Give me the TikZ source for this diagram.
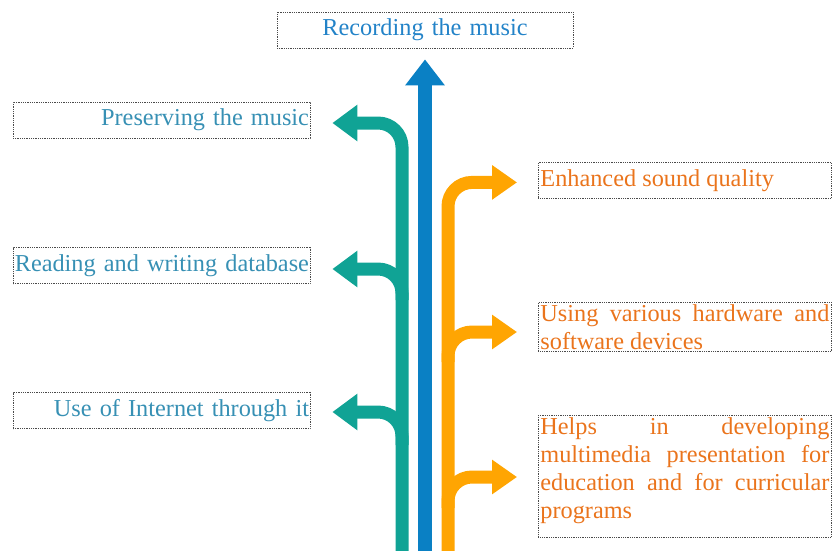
\documentclass[tikz,border=0pt]{standalone}
\usepackage{fontspec}
\setmainfont{Liberation Serif}
\usepackage{xcolor}
\usetikzlibrary{arrows.meta,positioning,calc}
\definecolor{tealarrow}{HTML}{10A395}
\definecolor{bluearrow}{HTML}{0A80C4}
\definecolor{orangearrow}{HTML}{FFA502}
\definecolor{bluetext}{HTML}{2383C8}
\definecolor{tealtext}{HTML}{3790B4}
\definecolor{orangetext}{HTML}{EA741C}
\definecolor{boxline}{HTML}{4A4A4A}
\tikzset{
  txtbox/.style={draw=boxline,densely dotted,line width=0.8pt,
                 inner sep=3pt,minimum height=36pt,
                 font=\fontsize{24.3}{28}\selectfont,
                 execute at begin node={\hyphenpenalty=10000\exhyphenpenalty=10000}},
  leftbox/.style={txtbox,text width=295pt,inner sep=1pt,align=right,text=tealtext},
  rightbox/.style={txtbox,text width=289pt,align=justify,inner sep=2pt,
                   anchor=north west,text=orangetext},
  tealarr/.style={-{Triangle[length=25pt,width=35pt]},line width=13pt,
                  color=tealarrow,rounded corners=24pt},
  orangearr/.style={-{Triangle[length=25pt,width=33pt]},line width=13pt,
                    color=orangearrow,rounded corners=24pt},
  bluearr/.style={-{Triangle[length=26pt,width=38pt]},line width=14pt,color=bluearrow}
}

\begin{document}
\begin{tikzpicture}[x=1pt,y=-1pt]
  \useasboundingbox (0,0) rectangle (834,550);

  % boxes
  \node[txtbox,text width=290pt,align=center,text=bluetext] (rec) at (425,30) {Recording the music};
  \node[leftbox] (pres) at (161.5,120) {Preserving the music};
  \node[leftbox] (read) at (161.5,265.5) {Reading and writing database};
  \node[leftbox] (inet) at (161.5,410.5) {Use of Internet through it};
  \node[rightbox] (enh) at (538,162) {Enhanced sound quality};
  \node[rightbox] (devs) at (538,302) {Using various hardware and software devices};
  \node[rightbox,text depth=101pt] (multi) at (538,415) {Helps in developing multimedia presentation for education and for curricular programs};

  % feet of the three stems
  \coordinate (tealfoot) at (402,552);
  \coordinate (bluefoot) at (425,552);
  \coordinate (orangefoot) at (448,552);
  \coordinate (tealmid) at (402,300);
  \coordinate (teallow) at (402,445);
  \coordinate (orangemid) at (448,362);
  \coordinate (orangelow) at (448,508);

  % centre stem
  \draw[bluearr] (bluefoot) -- ([yshift=-11pt]rec.south);

  % left stem with branches
  \draw[tealarr] (tealfoot) |- ([xshift=22pt,yshift=-3pt]pres.east);
  \draw[tealarr] (tealmid) |- ([xshift=22pt,yshift=-3.5pt]read.east);
  \draw[tealarr] (teallow) |- ([xshift=22pt,yshift=-1.5pt]inet.east);

  % right stem with branches
  \draw[orangearr] (orangefoot) |- ([xshift=-21pt,yshift=-2pt]enh.west);
  \draw[orangearr] (orangemid) |- ($(devs.north west)+(-21,30)$);
  \draw[orangearr] (orangelow) |- ($(multi.north west)+(-21,62)$);
\end{tikzpicture}
\end{document}
